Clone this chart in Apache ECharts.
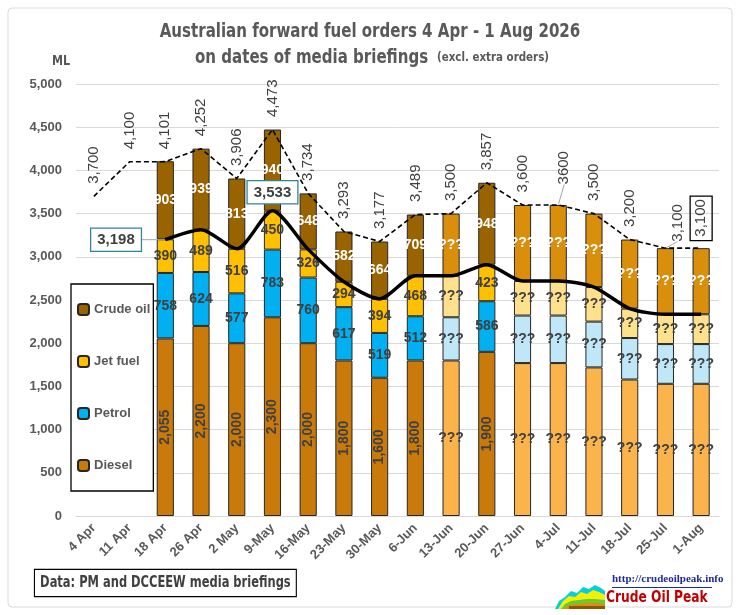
<!DOCTYPE html>
<html>
<head>
<meta charset="utf-8">
<script src="https://cdn.jsdelivr.net/npm/echarts@6/dist/echarts.min.js"></script>
<style>
  html, body { margin: 0; padding: 0; background: #fff; }
  #chart { width: 740px; height: 615px; }
</style>
</head>
<body>
<div id="chart"></div>
<script>
// briefing dates
const categories = ['4 Apr', '11 Apr', '18 Apr', '26 Apr', '2 May', '9-May', '16-May', '23-May', '30-May',
  '6-Jun', '13-Jun', '20-Jun', '27-Jun', '4-Jul', '11-Jul', '18-Jul', '25-Jul', '1-Aug'];

const diesel = [null, null, 2055, 2200, 2000, 2300, 2000, 1800, 1600, 1800, 1800, 1900, 1770, 1770, 1720, 1580, 1530, 1530];
const petrol = [null, null, 758, 624, 577, 783, 760, 617, 519, 512, 500, 586, 550, 550, 530, 480, 460, 460];
const jetFuel = [null, null, 390, 489, 516, 450, 326, 294, 394, 468, 480, 423, 400, 400, 400, 340, 345, 345];
const crudeOil = [null, null, 903, 939, 813, 940, 648, 582, 664, 709, 720, 948, 880, 880, 850, 800, 765, 765];

// 1 = figures given in the briefing, 0 = not given (???)
const confirmed = [1, 1, 1, 1, 1, 1, 1, 1, 1, 1, 0, 1, 0, 0, 0, 0, 0, 0];

// total forward orders (dashed) and refined products without crude (black line)
const forwardTotal = [3700, 4100, 4101, 4252, 3906, 4473, 3734, 3293, 3177, 3489, 3500, 3857, 3600, 3600, 3500, 3200, 3100, 3100];
const totalLabels = ['3,700', '4,100', '4,101', '4,252', '3,906', '4,473', '3,734', '3,293', '3,177', '3,489',
  '3,500', '3,857', '3,600', '3600', '3,500', '3,200', '3,100', '3,100'];
const productsTotal = [null, null, 3198, 3313, 3093, 3533, 3086, 2711, 2513, 2780, 2780, 2909, 2720, 2720, 2650, 2400, 2335, 2335];
const productsLabelled = [2, 5];

const yTicks = [0, 500, 1000, 1500, 2000, 2500, 3000, 3500, 4000, 4500, 5000];

const colors = {
  diesel: ['#FBB44C', '#C97A0A'],
  petrol: ['#BFE7F8', '#00B0F0'],
  jet: ['#FFE08C', '#FFC000'],
  crude: ['#D98F0B', '#996300'],
};

const narrow = '"DejaVu Sans Condensed", "DejaVu Sans", sans-serif';
const sans = '"Liberation Sans", Arial, sans-serif';
const grey = '#595959';
const dark = '#404040';
const guide = { show: true, lineStyle: { color: '#A6A6A6', width: 1 } };

function fmt(v) {
  return v.toLocaleString('en-US');
}

function barSeries(name, values, key, textColor, rotateActual) {
  return {
    name,
    type: 'bar',
    stack: 'fuel',
    barWidth: '48%',
    itemStyle: { color: colors[key][1], borderColor: '#262626', borderWidth: 1 },
    data: values.map((v, i) => {
      if (v == null) return null;
      const known = confirmed[i] === 1;
      return {
        value: v,
        itemStyle: { color: colors[key][known ? 1 : 0] },
        label: {
          show: true,
          position: 'inside',
          rotate: known && rotateActual ? 90 : 0,
          formatter: known ? fmt(v) : '???',
          color: textColor,
          fontWeight: 'bold',
          fontSize: 14,
          fontFamily: sans,
        },
      };
    }),
  };
}

const series = [
  barSeries('Diesel', diesel, 'diesel', dark, true),
  barSeries('Petrol', petrol, 'petrol', dark, false),
  barSeries('Jet fuel', jetFuel, 'jet', dark, false),
  barSeries('Crude oil', crudeOil, 'crude', '#ffffff', false),
  {
    name: 'products',
    type: 'line',
    smooth: 0.25,
    symbol: 'circle',
    symbolSize: 1,
    itemStyle: { color: 'rgba(0,0,0,0)' },
    z: 5,
    lineStyle: { color: '#000', width: 3.5 },
    labelLine: { show: false },
    labelLayout: p => (p.dataIndex === 2 ? { dx: -22 } : {}),
    data: productsTotal.map((v, i) => {
      if (productsLabelled.indexOf(i) < 0) return v;
      return {
        value: v,
        labelLine: i === 2 ? guide : { show: false },
        label: {
          show: true,
          position: i === 2 ? 'left' : 'top',
          distance: i === 2 ? 2 : 7,
          formatter: fmt(v),
          color: dark,
          fontWeight: 'bold',
          fontSize: 15,
          fontFamily: sans,
          backgroundColor: '#fff',
          borderColor: '#31849B',
          borderWidth: 1.3,
          padding: [4, 6, 3, 6],
        },
      };
    }),
  },
  {
    name: 'total',
    type: 'line',
    symbol: 'circle',
    symbolSize: 1,
    itemStyle: { color: 'rgba(0,0,0,0)' },
    z: 4,
    lineStyle: { color: '#000', width: 1.6, type: [5, 3] },
    label: {
      show: true,
      position: 'top',
      distance: 12,
      rotate: 90,
      align: 'left',
      verticalAlign: 'middle',
      color: dark,
      fontSize: 15,
      fontFamily: sans,
      formatter: p => totalLabels[p.dataIndex],
    },
    labelLine: { show: false },
    // rotated labels: dx runs along the text (up), dy across it (right)
    labelLayout: p => {
      if (p.dataIndex === 16) return { dx: -6, dy: 12 };
      if (p.dataIndex === 13) return { dx: 8, dy: 6 };
      return {};
    },
    data: forwardTotal.map((v, i) => {
      if (i === totalLabels.length - 1) {
        return { value: v, label: { borderColor: '#000', borderWidth: 1.3, padding: [4, 3, 3, 4], distance: 7 } };
      }
      if (i === 16 || i === 13) return { value: v, labelLine: guide };
      return v;
    }),
  },
];

const chart = echarts.init(document.getElementById('chart'));
chart.setOption({
  animation: false,
  backgroundColor: '#fff',
  legend: {
    orient: 'vertical',
    left: 71,
    top: 284,
    data: ['Crude oil', 'Jet fuel', 'Petrol', 'Diesel'],
    itemWidth: 11,
    itemHeight: 11,
    itemGap: 39,
    padding: [19, 3, 19, 6],
    borderColor: '#000',
    borderWidth: 1.3,
    backgroundColor: '#fff',
    textStyle: { color: grey, fontSize: 13, fontWeight: 'bold', fontFamily: sans },
    z: 10,
  },
  grid: { left: 76, right: 21, top: 84, bottom: 99 },
  xAxis: {
    type: 'category',
    data: categories,
    axisTick: { show: false },
    axisLine: { lineStyle: { color: '#D9D9D9', width: 1 } },
    axisLabel: {
      interval: 0,
      rotate: 45,
      margin: 10,
      color: grey,
      fontSize: 13,
      fontWeight: 'bold',
      fontFamily: sans,
    },
  },
  yAxis: {
    type: 'value',
    min: yTicks[0],
    max: yTicks[yTicks.length - 1],
    interval: 500,
    axisLine: { show: false },
    axisTick: { show: false },
    splitLine: { lineStyle: { color: '#D9D9D9' } },
    axisLabel: {
      margin: 14,
      color: grey,
      fontSize: 13,
      fontWeight: 'bold',
      fontFamily: sans,
      formatter: v => fmt(v),
    },
  },
  series,
  graphic: [
    {
      type: 'rect',
      shape: { x: 8, y: 8, width: 724, height: 599, r: 4 },
      style: { fill: 'none', stroke: '#D9D9D9', lineWidth: 1 },
      silent: true,
      z: -1,
    },
    {
      type: 'text',
      x: 370,
      y: 32,
      scaleX: 0.88,
      style: {
        text: 'Australian forward fuel orders 4 Apr - 1 Aug 2026',
        font: 'bold 19px ' + narrow,
        fill: grey,
        align: 'center',
        verticalAlign: 'middle',
      },
    },
    {
      type: 'text',
      x: 372,
      y: 58,
      scaleX: 0.88,
      style: {
        text: '{a|on dates of media briefings}   {b|(excl. extra orders)}',
        align: 'center',
        verticalAlign: 'middle',
        rich: {
          a: { font: 'bold 19px ' + narrow, fill: grey },
          b: { font: 'bold 13px ' + narrow, fill: grey },
        },
      },
    },
    {
      type: 'text',
      x: 61,
      y: 61,
      scaleX: 0.88,
      style: { text: 'ML', font: 'bold 14px ' + narrow, fill: grey, align: 'center', verticalAlign: 'middle' },
    },
    {
      type: 'text',
      x: 35,
      y: 570,
      scaleX: 0.85,
      style: {
        text: 'Data: PM and DCCEEW media briefings',
        font: 'bold 15px ' + narrow,
        fill: dark,
        padding: [6, 6, 5, 6],
        borderColor: '#000',
        borderWidth: 1.3,
        backgroundColor: '#fff',
      },
    },
    {
      type: 'group',
      x: 555,
      y: 579,
      children: [
        { type: 'polygon', shape: { points: [[0, 30], [4, 22], [10, 18], [16, 12], [22, 14], [28, 8], [34, 10], [40, 6], [46, 9], [50, 12], [50, 30]] }, style: { fill: '#00D0E0' } },
        { type: 'polygon', shape: { points: [[3, 30], [8, 22], [14, 17], [20, 18], [26, 13], [32, 15], [38, 11], [44, 13], [50, 16], [50, 30]] }, style: { fill: '#F5F000' } },
        { type: 'polygon', shape: { points: [[6, 30], [10, 25], [16, 22], [24, 21], [32, 20], [40, 20], [50, 21], [50, 30]] }, style: { fill: '#66CC33' } },
        { type: 'polygon', shape: { points: [[8, 30], [14, 26], [24, 25], [34, 24], [44, 24], [50, 25], [50, 30]] }, style: { fill: '#E08A1A' } },
        { type: 'rect', shape: { x: 14, y: 27, width: 36, height: 3 }, style: { fill: '#8B5A00' } },
      ],
    },
    {
      type: 'text',
      x: 612,
      y: 574,
      style: { text: 'http://crudeoilpeak.info', font: 'bold 11px "Liberation Serif", serif', fill: '#1F2A9C' },
    },
    {
      type: 'rect',
      shape: { x: 612, y: 587, width: 100, height: 1 },
      style: { fill: '#1F2A9C' },
    },
    {
      type: 'text',
      x: 606,
      y: 590,
      scaleX: 0.85,
      style: { text: 'Crude Oil Peak', font: 'bold 16px ' + narrow, fill: '#C00000' },
    },
  ],
});
</script>
</body>
</html>
